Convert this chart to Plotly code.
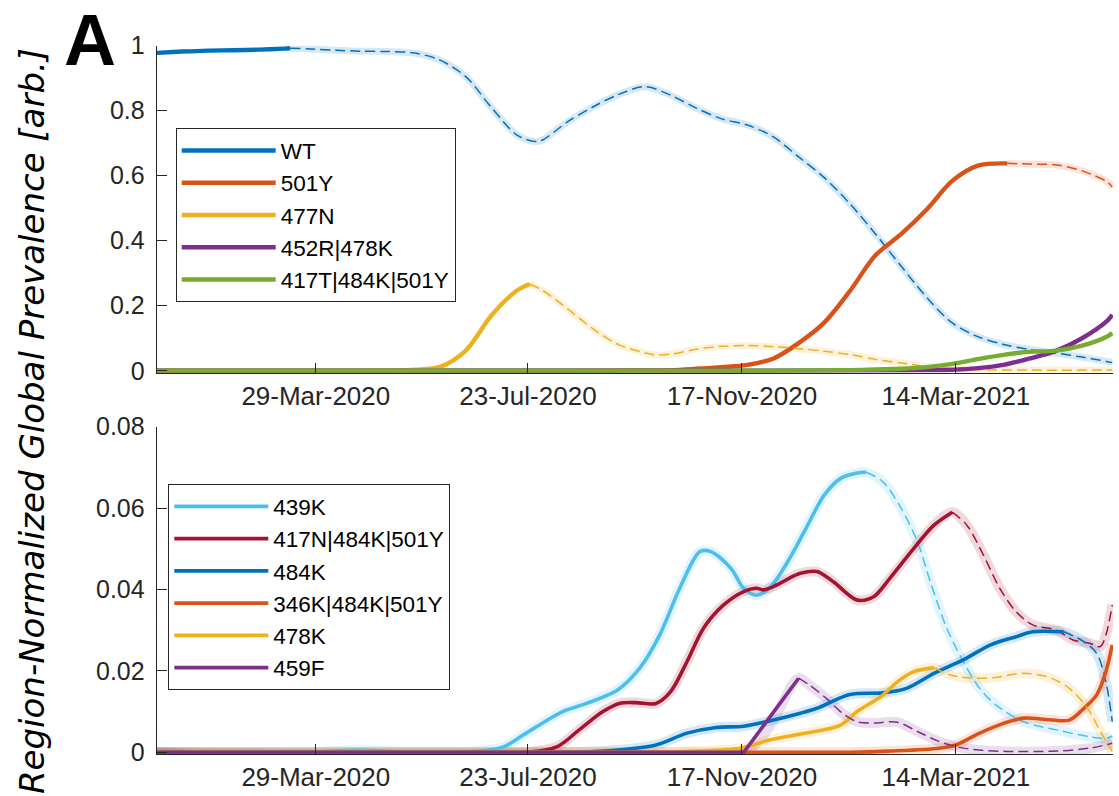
import plotly.graph_objects as go
import pandas as pd

# ---------------- data ----------------
START = "2020-01-02"
END_DAY = 522.9

TICK_DATES = ["2020-03-29", "2020-07-23", "2020-11-17", "2021-03-14"]
TOP_YTICKS = [0, 0.2, 0.4, 0.6, 0.8, 1]
TOP_YTICK_TEXT = ["0", "0.2", "0.4", "0.6", "0.8", "1"]
BOT_YTICKS = [0, 0.02, 0.04, 0.06, 0.08]
BOT_YTICK_TEXT = ["0", "0.02", "0.04", "0.06", "0.08"]

# Top panel (days since START)
wt_days = [0, 14, 28, 42, 56, 70, 73, 84, 98, 112, 126, 140, 154, 169, 183, 197, 207, 211, 225, 239,
           253, 267, 281, 295, 309, 323, 337, 351, 365, 379, 393, 407, 421, 435, 449, 463, 477, 492,
           506, 520, 522.5]
wt_vals = [0.978, 0.982, 0.985, 0.986, 0.988, 0.991, 0.992, 0.990, 0.986, 0.983, 0.982, 0.978, 0.958,
           0.905, 0.81, 0.725, 0.705, 0.71, 0.767, 0.813, 0.851, 0.874, 0.848, 0.808, 0.775, 0.756,
           0.72, 0.658, 0.594, 0.514, 0.421, 0.322, 0.226, 0.147, 0.105, 0.081, 0.066, 0.054, 0.042,
           0.028, 0.025]
wt_solid_end = 73

y501_days = [0, 56, 112, 169, 225, 253, 281, 295, 309, 323, 337, 351, 365, 379, 393, 407, 421, 435,
             449, 465, 477, 492, 506, 520, 522.5]
y501_vals = [0, 0, 0, 0, 0, 0.001, 0.002, 0.006, 0.011, 0.018, 0.037, 0.085, 0.148, 0.245, 0.355,
             0.42, 0.496, 0.584, 0.631, 0.638, 0.636, 0.633, 0.615, 0.58, 0.565]
y501_solid_end = 465

n477_days = [0, 112, 141, 155, 169, 183, 197, 204, 211, 225, 239, 253, 267, 273, 281, 295, 309, 323,
             337, 351, 365, 379, 393, 407, 421, 435, 449, 477, 522.5]
n477_vals = [0, 0, 0.003, 0.012, 0.062, 0.17, 0.247, 0.267, 0.247, 0.189, 0.127, 0.079, 0.055, 0.048,
             0.051, 0.066, 0.075, 0.078, 0.074, 0.068, 0.06, 0.05, 0.035, 0.024, 0.013, 0.006, 0.003,
             0.002, 0.002]
n477_solid_end = 204

r452_days = [0, 300, 393, 421, 435, 449, 463, 477, 492, 506, 520, 522.5]
r452_vals = [0, 0, 0.001, 0.002, 0.003, 0.008, 0.018, 0.037, 0.062, 0.1, 0.155, 0.172]

t417_days = [0, 337, 379, 393, 407, 421, 435, 449, 463, 477, 492, 506, 520, 522.5]
t417_vals = [0, 0, 0.002, 0.004, 0.006, 0.011, 0.021, 0.036, 0.049, 0.058, 0.062, 0.077, 0.106, 0.116]

# Bottom panel
k439_days = [0, 80, 109, 144, 177, 190, 202, 222, 235, 252, 264, 275, 286, 297, 303, 314, 321, 328,
             335, 345, 355, 365, 374, 383, 388, 397, 406, 416, 423, 432, 441, 450, 459, 474, 492,
             510, 519, 522.5]
k439_vals = [0, 0, 0.0005, 0, 0.0003, 0.0014, 0.0047, 0.01, 0.012, 0.0153, 0.0206, 0.0288, 0.0403,
             0.0493, 0.0493, 0.0452, 0.0403, 0.0386, 0.0403, 0.0468, 0.055, 0.0632, 0.0673, 0.0686,
             0.0688, 0.0665, 0.0608, 0.0517, 0.0419, 0.0305, 0.0223, 0.0157, 0.0116, 0.0075, 0.0055,
             0.0038, 0.0034, 0.004]
k439_solid_end = 388

n417_days = [0, 202, 219, 231, 244, 253, 262, 273, 281, 290, 299, 310, 321, 328, 332, 339, 346, 352,
             361, 370, 383, 392, 401, 414, 425, 435, 443, 452, 461, 470, 479, 492, 501, 510, 516,
             519, 522.5]
n417_vals = [0, 0, 0.0014, 0.0055, 0.01, 0.012, 0.0122, 0.012, 0.0149, 0.0223, 0.0305, 0.0362,
             0.0395, 0.0403, 0.0399, 0.0411, 0.0428, 0.044, 0.0444, 0.0419, 0.0374, 0.0382, 0.0428,
             0.0501, 0.0558, 0.059, 0.0558, 0.0485, 0.0403, 0.0345, 0.0313, 0.03, 0.0276, 0.0268,
             0.026, 0.0288, 0.0362]
n417_solid_end = 435

k484_days = [0, 200, 244, 273, 290, 306, 321, 335, 352, 361, 379, 397, 410, 425, 441, 456, 470, 479,
             496, 507, 514, 519, 522.5]
k484_vals = [0, 0, 0.0003, 0.0018, 0.0047, 0.0061, 0.0064, 0.0077, 0.0096, 0.0108, 0.0142, 0.0146,
             0.0157, 0.0194, 0.0227, 0.0264, 0.0284, 0.0296, 0.0296, 0.0272, 0.0243, 0.0173, 0.0075]
k484_solid_end = 496

k346_days = [0, 379, 401, 428, 437, 450, 463, 474, 488, 499, 507, 514, 519, 522.5]
k346_vals = [0, 0, 0.0003, 0.001, 0.0018, 0.0047, 0.0071, 0.0084, 0.008, 0.0079, 0.0108, 0.0141,
             0.0198, 0.0264]

k478_days = [0, 270, 290, 319, 335, 352, 374, 383, 396, 405, 414, 425, 434, 447, 459, 474, 488, 499,
             509, 516, 522.5]
k478_vals = [0, 0, 0.0002, 0.001, 0.003, 0.0045, 0.0067, 0.01, 0.0137, 0.0173, 0.0198, 0.0208, 0.019,
             0.0182, 0.0184, 0.0194, 0.0184, 0.0157, 0.0108, 0.0051, 0.0002]
k478_solid_end = 425

f459_days = [0, 321, 351, 357, 366, 375, 383, 392, 405, 416, 427, 437, 448, 465, 492, 510, 522.5]
f459_vals = [0, 0, 0.0182, 0.0165, 0.0133, 0.0096, 0.0075, 0.0072, 0.0074, 0.0051, 0.0028, 0.0014,
             0.0006, 0.0002, 0.0003, 0.001, 0.0022]
f459_solid_end = 351

# ---------------- styling ----------------
BLUE = "#0072BD"
ORANGE = "#D95319"
YELLOW = "#EDB120"
PURPLE = "#7E2F8E"
GREEN = "#77AC30"
LBLUE = "#4DBEEE"
DRED = "#A2142F"
AX = "#262626"
FONT = "Liberation Sans"
SMOOTH = 0.9

top_series = [
    ("WT", BLUE, wt_days, wt_vals, wt_solid_end),
    ("501Y", ORANGE, y501_days, y501_vals, y501_solid_end),
    ("477N", YELLOW, n477_days, n477_vals, n477_solid_end),
    ("452R|478K", PURPLE, r452_days, r452_vals, None),
    ("417T|484K|501Y", GREEN, t417_days, t417_vals, None),
]
bot_series = [
    ("439K", LBLUE, k439_days, k439_vals, k439_solid_end),
    ("417N|484K|501Y", DRED, n417_days, n417_vals, n417_solid_end),
    ("484K", BLUE, k484_days, k484_vals, k484_solid_end),
    ("346K|484K|501Y", ORANGE, k346_days, k346_vals, None),
    ("478K", YELLOW, k478_days, k478_vals, k478_solid_end),
    ("459F", PURPLE, f459_days, f459_vals, f459_solid_end),
]


def to_dates(days):
    return list(pd.Timestamp(START) + pd.to_timedelta(days, unit="D"))


def rgba(hexc, a):
    h = hexc.lstrip("#")
    return "rgba(%d,%d,%d,%.3f)" % (int(h[0:2], 16), int(h[2:4], 16), int(h[4:6], 16), a)


fig = go.Figure()


def add_panel(series, xa, ya, legend, solid_w, band_all, band_w):
    # confidence bands first (underneath)
    for name, color, days, vals, split in series:
        if band_all:
            d, v = days, vals
        else:
            if split is None:
                continue
            d = [x for x in days if x >= split]
            v = [y for x, y in zip(days, vals) if x >= split]
        fig.add_trace(go.Scatter(x=to_dates(d), y=v, mode="lines", xaxis=xa, yaxis=ya,
                                 line=dict(color=rgba(color, 0.16), width=band_w, shape="spline",
                                           smoothing=SMOOTH),
                                 showlegend=False, hoverinfo="skip"))
    for name, color, days, vals, split in series:
        if split is None:
            sd, sv = days, vals
        else:
            sd = [x for x in days if x <= split]
            sv = [y for x, y in zip(days, vals) if x <= split]
        shape = "linear" if name == "459F" else "spline"
        fig.add_trace(go.Scatter(x=to_dates(sd), y=sv, mode="lines", name=name, xaxis=xa, yaxis=ya,
                                 line=dict(color=color, width=solid_w, shape=shape, smoothing=SMOOTH),
                                 legend=legend, showlegend=True))
        if split is not None:
            dd = [x for x in days if x >= split]
            dv = [y for x, y in zip(days, vals) if x >= split]
            fig.add_trace(go.Scatter(x=to_dates(dd), y=dv, mode="lines", xaxis=xa, yaxis=ya,
                                     line=dict(color=color, width=1.5, dash="10px,5px",
                                               shape="spline", smoothing=SMOOTH),
                                     showlegend=False))


add_panel(top_series, "x", "y", "legend", 4.4, False, 7)
add_panel(bot_series, "x2", "y2", "legend2", 3.6, True, 10)

W, H = 1119, 796
x_dom = [156.7 / W, 1113 / W]
x_range = [pd.Timestamp(START), pd.Timestamp(START) + pd.Timedelta(days=END_DAY)]

common_x = dict(type="date", range=x_range, tickvals=TICK_DATES, tickformat="%d-%b-%Y",
                ticks="inside", ticklen=10, tickwidth=1, tickcolor=AX, showline=True,
                linecolor=AX, linewidth=1, showgrid=False, zeroline=False, automargin=False,
                tickfont=dict(family=FONT, size=26, color=AX), domain=x_dom)
common_y = dict(ticks="inside", ticklen=10, tickwidth=1, tickcolor=AX, showline=True,
                linecolor=AX, linewidth=1, showgrid=False, zeroline=False, automargin=False,
                tickfont=dict(family=FONT, size=25, color=AX), ticklabelstandoff=6)

legend_common = dict(xanchor="left", yanchor="top", bordercolor=AX, borderwidth=1,
                     bgcolor="white", itemwidth=94, traceorder="normal",
                     font=dict(family=FONT, size=22.5, color="black"))

fig.update_layout(
    width=W, height=H, margin=dict(l=0, r=0, t=0, b=0, autoexpand=False),
    paper_bgcolor="white", plot_bgcolor="white",
    xaxis=dict(anchor="y", **common_x),
    xaxis2=dict(anchor="y2", **common_x),
    yaxis=dict(anchor="x", domain=[1 - 372.7 / H, 1 - 45.7 / H], range=[-0.006, 1],
               tickvals=TOP_YTICKS, ticktext=TOP_YTICK_TEXT, **common_y),
    yaxis2=dict(anchor="x2", domain=[1 - 753.9 / H, 1 - 426.7 / H], range=[-0.0004, 0.08],
                tickvals=BOT_YTICKS, ticktext=BOT_YTICK_TEXT, **common_y),
    legend=dict(x=175.7 / W, y=1 - 128.3 / H, **legend_common),
    legend2=dict(x=168.3 / W, y=1 - 484.3 / H, **legend_common),
    showlegend=True,
)

fig.add_annotation(text="<i>Region-Normalized Global Prevalence [arb.]</i>", textangle=-90,
                   xref="paper", yref="paper", x=32 / W, y=1 - 421 / H,
                   xanchor="center", yanchor="middle", showarrow=False,
                   font=dict(family="DejaVu Sans", size=34, color="black"))
fig.add_annotation(text="<b>A</b>", xref="paper", yref="paper", x=90 / W, y=1 - 40 / H,
                   xanchor="center", yanchor="middle", showarrow=False,
                   font=dict(family=FONT, size=72, color="black"))

fig.write_html("out.html")
